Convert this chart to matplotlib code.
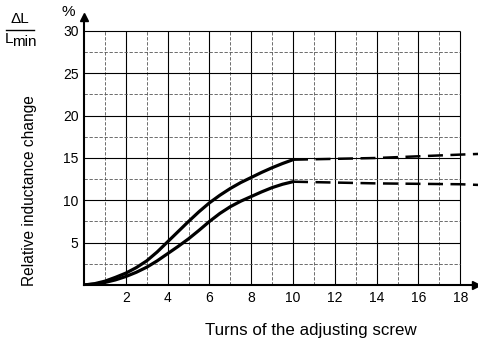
import matplotlib.pyplot as plt
import numpy as np

plt.rcParams['font.family'] = ['Liberation Sans', 'DejaVu Sans']

# measured turns vs relative inductance change (%)
turns = [0, 0.5, 1, 1.5, 2, 2.5, 3, 3.5, 4, 4.5, 5, 5.5, 6, 6.5, 7, 7.5, 8, 8.5, 9, 9.5, 10]
upper = [0, 0.15, 0.45, 0.9, 1.4, 2.05, 2.85, 3.9, 5.1, 6.3, 7.5, 8.65, 9.7, 10.6, 11.4, 12.1, 12.7, 13.3, 13.85, 14.35, 14.8]
lower = [0, 0.1, 0.3, 0.6, 1.0, 1.5, 2.1, 2.85, 3.7, 4.55, 5.45, 6.45, 7.5, 8.45, 9.25, 9.9, 10.45, 11.0, 11.5, 11.9, 12.2]

# extrapolated part (dashed)
turns_ext = [10, 12, 14, 16, 18, 19.1]
upper_ext = [14.8, 14.9, 15.0, 15.2, 15.4, 15.5]
lower_ext = [12.2, 12.1, 12.0, 11.95, 11.9, 11.8]

xticks = [2, 4, 6, 8, 10, 12, 14, 16, 18]
yticks = [5, 10, 15, 20, 25, 30]

fig = plt.figure(figsize=(4.78, 3.45), dpi=100)
ax = fig.add_axes([84 / 478, 60 / 345, (476 - 84) / 478, (285 - 17) / 345])

xmax = (476 - 84) / 20.9
ymax = (285 - 17) / 8.467
ax.set_xlim(0, xmax)
ax.set_ylim(0, ymax)

# grid, only inside 0..18 x 0..30
for x in range(1, 19):
    if x % 2 == 0:
        ax.vlines(x, 0, 30, color='black', lw=0.8, zorder=1)
    else:
        ax.vlines(x, 0, 30, color='#555555', lw=0.6, ls=(0, (4, 2)), zorder=1)
for y in np.arange(2.5, 30.1, 2.5):
    if y % 5 == 0:
        ax.hlines(y, 0, 18, color='black', lw=0.8, zorder=1)
    else:
        ax.hlines(y, 0, 18, color='#555555', lw=0.6, ls=(0, (4, 2)), zorder=1)

ax.plot(turns, upper, color='black', lw=2.3, zorder=3, solid_capstyle='round')
ax.plot(turns, lower, color='black', lw=2.3, zorder=3, solid_capstyle='round')
ax.plot(turns_ext, upper_ext, color='black', lw=1.8, ls=(0, (6, 3)), clip_on=False, zorder=3)
ax.plot(turns_ext, lower_ext, color='black', lw=1.8, ls=(0, (6, 3)), clip_on=False, zorder=3)

for s in ['top', 'right']:
    ax.spines[s].set_visible(False)
ax.spines['left'].set_linewidth(1.5)
ax.spines['bottom'].set_linewidth(1.5)

# arrow heads on the axes
ax.plot(1, 0, '>k', ms=6, transform=ax.transAxes, clip_on=False)
ax.plot(0, 1, '^k', ms=6, transform=ax.transAxes, clip_on=False)

ax.set_xticks(xticks)
ax.set_yticks(yticks)
ax.set_xticklabels([str(t) for t in xticks])
ax.set_yticklabels([str(t) for t in yticks])
ax.tick_params(length=0, labelsize=10, pad=4)

fig.text(30 / 478, 1 - 191 / 345, 'Relative inductance change', fontsize=11.2,
         rotation=90, ha='center', va='center')
fig.text(311 / 478, 1 - 331 / 345, 'Turns of the adjusting screw', fontsize=12.2,
         ha='center', va='center')

# ΔL / Lmin label
fig.text(20 / 478, 1 - 19 / 345, 'ΔL', fontsize=11, ha='center', va='center')
fig.add_artist(plt.Line2D([6 / 478, 34 / 478], [1 - 30 / 345, 1 - 30 / 345],
                          color='black', lw=1))
fig.text(5 / 478, 1 - 39 / 345, 'L', fontsize=11, ha='left', va='center')
fig.text(12 / 478, 1 - 42 / 345, 'min', fontsize=11, ha='left', va='center')
fig.text(68 / 478, 1 - 12 / 345, '%', fontsize=11, ha='center', va='center')

fig.savefig('out.png', dpi=100)
